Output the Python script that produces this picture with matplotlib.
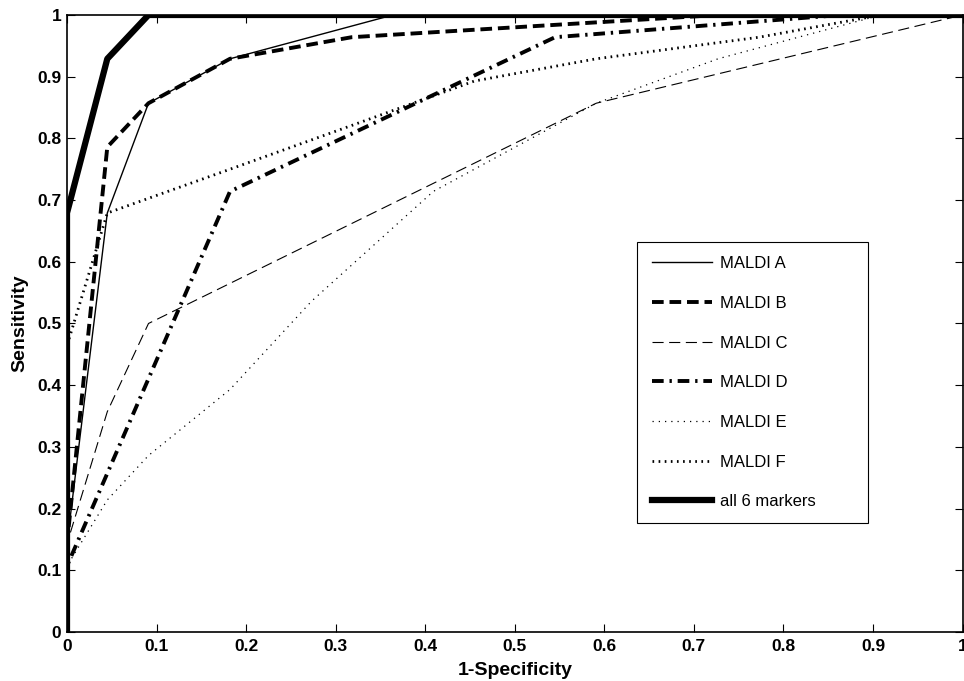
# ROC-кривые для маркеров MALDI
import matplotlib
matplotlib.use('Agg')
import matplotlib.pyplot as plt

# данные: 1-специфичность и чувствительность для каждой кривой
a_x = [0, 0, 0.045, 0.091, 0.182, 0.364, 1.0]
a_y = [0, 0.143, 0.679, 0.857, 0.929, 1.0, 1.0]

b_x = [0, 0, 0.045, 0.091, 0.182, 0.318, 0.727, 1.0]
b_y = [0, 0.143, 0.786, 0.857, 0.929, 0.964, 1.0, 1.0]

c_x = [0, 0, 0.045, 0.091, 0.591, 1.0]
c_y = [0, 0.143, 0.357, 0.5, 0.857, 1.0]

d_x = [0, 0, 0.182, 0.545, 0.864, 1.0]
d_y = [0, 0.107, 0.714, 0.964, 1.0, 1.0]

e_x = [0, 0, 0.045, 0.091, 0.182, 0.273, 0.409, 0.591, 0.727, 0.909, 1.0]
e_y = [0, 0.107, 0.214, 0.286, 0.393, 0.536, 0.714, 0.857, 0.929, 1.0, 1.0]

f_x = [0, 0, 0.045, 0.182, 0.318, 0.455, 0.591, 0.773, 0.909, 1.0]
f_y = [0, 0.464, 0.679, 0.75, 0.821, 0.893, 0.929, 0.964, 1.0, 1.0]

all_x = [0, 0, 0.045, 0.091, 1.0]
all_y = [0, 0.679, 0.929, 1.0, 1.0]

ticks = [0, 0.1, 0.2, 0.3, 0.4, 0.5, 0.6, 0.7, 0.8, 0.9, 1]
tick_labels = ['0', '0.1', '0.2', '0.3', '0.4', '0.5', '0.6', '0.7', '0.8', '0.9', '1']

fig = plt.figure(figsize=(9.64, 6.81), dpi=100)
ax = fig.add_axes([0.0695, 0.072, 0.929, 0.906])

ax.plot(a_x, a_y, color='black', lw=1.0, label='MALDI A')
ax.plot(b_x, b_y, color='black', lw=2.8, linestyle=(0, (3, 1.5)), label='MALDI B')
ax.plot(c_x, c_y, color='black', lw=0.8, linestyle=(0, (10, 5)), label='MALDI C')
ax.plot(d_x, d_y, color='black', lw=2.8, linestyle=(0, (3, 1.5, 0.6, 1.5)), label='MALDI D')
ax.plot(e_x, e_y, color='black', lw=0.9, linestyle=(0, (1, 4)), label='MALDI E')
ax.plot(f_x, f_y, color='black', lw=2.0, linestyle=(0, (0.6, 1.6)), label='MALDI F')
ax.plot(all_x, all_y, color='black', lw=4.5, label='all 6 markers')

ax.set_xlim(0, 1)
ax.set_ylim(0, 1)
ax.set_xticks(ticks)
ax.set_yticks(ticks)
ax.set_xticklabels(tick_labels)
ax.set_yticklabels(tick_labels)
ax.tick_params(direction='in', top=True, right=True, length=6, width=0.8)
ax.tick_params(axis='x', pad=5)
ax.tick_params(axis='y', pad=4)
for lbl in ax.get_xticklabels() + ax.get_yticklabels():
    lbl.set_family(['Liberation Sans', 'DejaVu Sans'])
    lbl.set_fontweight('bold')
    lbl.set_fontsize(12.5)
for s in ax.spines.values():
    s.set_linewidth(1.2)

ax.set_xlabel('1-Specificity', family=['Liberation Sans', 'DejaVu Sans'],
              fontweight='bold', fontsize=14, labelpad=6)
ax.set_ylabel('Sensitivity', family=['Liberation Sans', 'DejaVu Sans'],
              fontweight='bold', fontsize=14, labelpad=6)

leg = ax.legend(loc='upper left', bbox_to_anchor=(0.637, 0.0, 0.257, 0.632),
                mode='expand', prop={'family': 'Liberation Sans', 'size': 12},
                handlelength=3.6, handletextpad=0.5, labelspacing=1.48,
                borderpad=0.85, fancybox=False, framealpha=1, edgecolor='black',
                borderaxespad=0)
leg.get_frame().set_linewidth(0.8)

fig.savefig('out.png', dpi=100)
